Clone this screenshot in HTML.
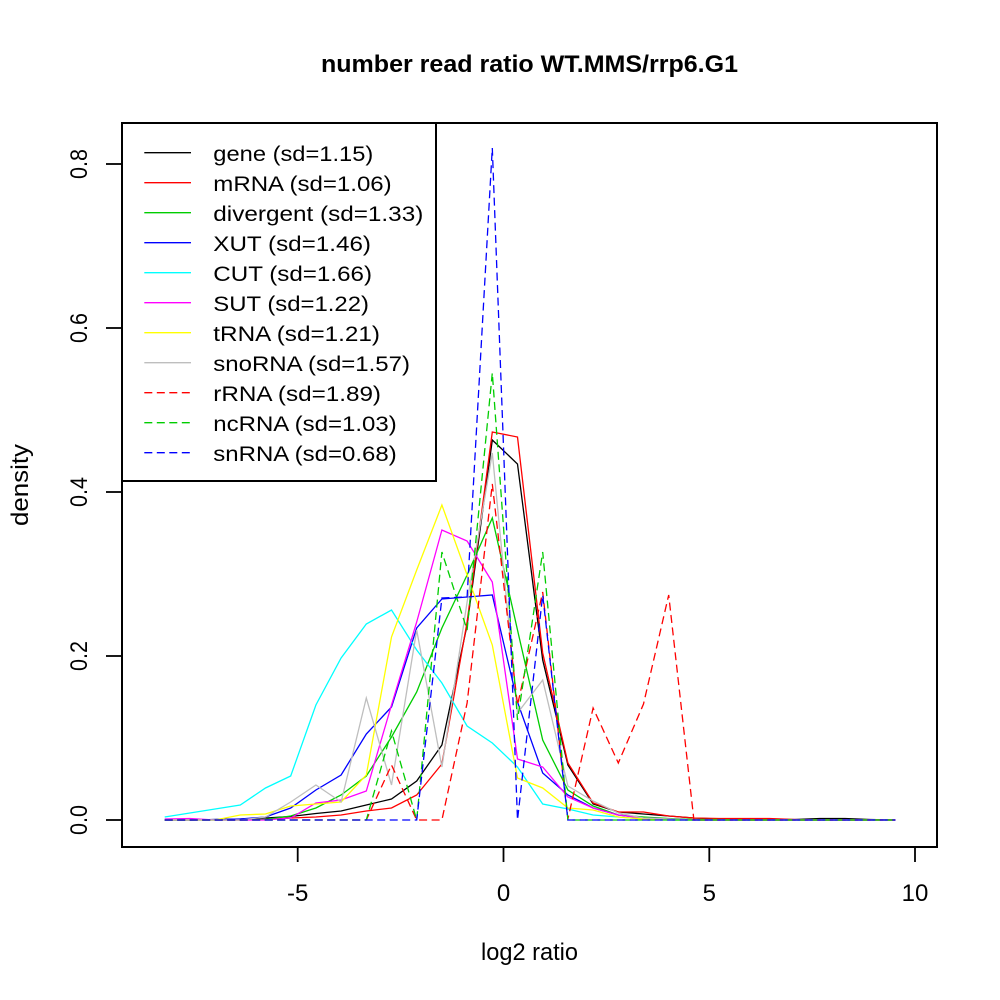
<!DOCTYPE html>
<html>
<head>
<meta charset="utf-8">
<style>
html,body{margin:0;padding:0;background:#fff;}
svg{display:block;}
text{font-family:"Liberation Sans",Arial,sans-serif;fill:#000;}
</style>
</head>
<body>
<svg width="1000" height="1000" viewBox="0 0 1000 1000" xmlns="http://www.w3.org/2000/svg">
<rect x="0" y="0" width="1000" height="1000" fill="#fff"/>

<!-- title -->
<text x="529.5" y="72" font-size="24" font-weight="bold" text-anchor="middle" textLength="417" lengthAdjust="spacingAndGlyphs">number read ratio WT.MMS/rrp6.G1</text>

<!-- axis labels -->
<text x="529.5" y="960" font-size="24" text-anchor="middle" textLength="97" lengthAdjust="spacingAndGlyphs">log2 ratio</text>
<text transform="translate(28,485) rotate(-90)" font-size="24" text-anchor="middle" textLength="82" lengthAdjust="spacingAndGlyphs">density</text>

<!-- x ticks -->
<g stroke="#000" stroke-width="1.8">
<line x1="297.7" y1="847" x2="297.7" y2="862"/>
<line x1="503.5" y1="847" x2="503.5" y2="862"/>
<line x1="709.3" y1="847" x2="709.3" y2="862"/>
<line x1="915" y1="847" x2="915" y2="862"/>
<line x1="106" y1="820" x2="122" y2="820"/>
<line x1="106" y1="656" x2="122" y2="656"/>
<line x1="106" y1="492" x2="122" y2="492"/>
<line x1="106" y1="328" x2="122" y2="328"/>
<line x1="106" y1="164" x2="122" y2="164"/>
</g>
<g font-size="24" text-anchor="middle">
<text x="297.7" y="901">-5</text>
<text x="503.5" y="901">0</text>
<text x="709.3" y="901">5</text>
<text x="915" y="901">10</text>
</g>
<g font-size="24" text-anchor="middle">
<text transform="translate(87,820) rotate(-90)" textLength="30" lengthAdjust="spacingAndGlyphs">0.0</text>
<text transform="translate(87,656) rotate(-90)" textLength="30" lengthAdjust="spacingAndGlyphs">0.2</text>
<text transform="translate(87,492) rotate(-90)" textLength="30" lengthAdjust="spacingAndGlyphs">0.4</text>
<text transform="translate(87,328) rotate(-90)" textLength="30" lengthAdjust="spacingAndGlyphs">0.6</text>
<text transform="translate(87,164) rotate(-90)" textLength="30" lengthAdjust="spacingAndGlyphs">0.8</text>
</g>

<!-- data -->
<g fill="none" stroke-width="1.3" stroke-linejoin="miter">
<polyline stroke="#000000" points="164.7,820 189.9,820 215.1,819.5 240.3,819 265.5,818 290.7,816.5 315.9,813.5 341.1,811 366.3,805 391.5,799 416.7,781 441.9,745 467.1,625 492.3,440 517.5,464 542.7,660 567.9,765 593.1,804 618.3,812 643.5,814 668.7,816 693.9,818 719.1,819 744.3,819 769.5,819.5 794.7,819.5 819.9,818.5 845.1,818.5 870.3,819.5 895.5,820"/>
<polyline stroke="#FF0000" points="164.7,820 189.9,820 215.1,820 240.3,820 265.5,819.5 290.7,818 315.9,817 341.1,815 366.3,811 391.5,808 416.7,795 441.9,764 467.1,622 492.3,432 517.5,437 542.7,653 567.9,763 593.1,803 618.3,812 643.5,812 668.7,816 693.9,818 719.1,818.5 744.3,818.5 769.5,818.5 794.7,819.5 819.9,820 845.1,820 870.3,820 895.5,820"/>
<polyline stroke="#00CD00" points="164.7,820 189.9,820 215.1,820 240.3,820 265.5,819.5 290.7,816 315.9,808 341.1,795 366.3,776 391.5,737 416.7,692 441.9,628 467.1,575 492.3,518 517.5,630 542.7,740 567.9,790 593.1,806 618.3,815 643.5,817 668.7,818.5 693.9,819.5 719.1,819.5 744.3,820 769.5,820 794.7,820 819.9,820 845.1,820 870.3,820 895.5,820"/>
<polyline stroke="#0000FF" points="164.7,820 189.9,820 215.1,819.5 240.3,819 265.5,817 290.7,808 315.9,790 341.1,775 366.3,734 391.5,707 416.7,628 441.9,599 467.1,597 492.3,595 517.5,702 542.7,773 567.9,795 593.1,808 618.3,815 643.5,818 668.7,819 693.9,820 719.1,820 744.3,820 769.5,820 794.7,820 819.9,820 845.1,820 870.3,820 895.5,820"/>
<polyline stroke="#00FFFF" points="164.7,817 189.9,813 215.1,809 240.3,805 265.5,788 290.7,776 315.9,705 341.1,658 366.3,624 391.5,610 416.7,650 441.9,683 467.1,726 492.3,743 517.5,767 542.7,804 567.9,809 593.1,815 618.3,817 643.5,819 668.7,820 693.9,820 719.1,820 744.3,820 769.5,820 794.7,820 819.9,820 845.1,820 870.3,820 895.5,820"/>
<polyline stroke="#FF00FF" points="164.7,819 189.9,818.5 215.1,820 240.3,820 265.5,820 290.7,818 315.9,803 341.1,800 366.3,791 391.5,705 416.7,622 441.9,530 467.1,541 492.3,582 517.5,759 542.7,767 567.9,797 593.1,808 618.3,815 643.5,818 668.7,819 693.9,820 719.1,820 744.3,820 769.5,820 794.7,820 819.9,820 845.1,820 870.3,820 895.5,820"/>
<polyline stroke="#FFFF00" points="164.7,820 189.9,820 215.1,820 240.3,815 265.5,814 290.7,806 315.9,804 341.1,802 366.3,775 391.5,637 416.7,570 441.9,505 467.1,575 492.3,645 517.5,778 542.7,788 567.9,808 593.1,810 618.3,817 643.5,819 668.7,820 693.9,820 719.1,820 744.3,820 769.5,820 794.7,820 819.9,820 845.1,820 870.3,820 895.5,820"/>
<polyline stroke="#BEBEBE" points="164.7,820 189.9,820 215.1,820 240.3,820 265.5,817 290.7,802 315.9,785 341.1,802 366.3,698 391.5,785 416.7,630 441.9,767 467.1,602 492.3,453 517.5,713 542.7,680 567.9,786 593.1,801 618.3,813 643.5,818 668.7,819 693.9,820 719.1,820 744.3,820 769.5,820 794.7,820 819.9,820 845.1,820 870.3,820 895.5,820"/>
<polyline stroke="#FF0000" stroke-dasharray="8 4.5" points="164.7,820 189.9,820 215.1,820 240.3,820 265.5,820 290.7,820 315.9,820 341.1,820 366.3,820 391.5,765 416.7,820 441.9,820 467.1,703 492.3,484 517.5,705 542.7,592 567.9,819 593.1,708 618.3,763 643.5,704 668.7,595 693.9,820 719.1,820 744.3,820 769.5,820 794.7,820 819.9,820 845.1,820 870.3,820 895.5,820"/>
<polyline stroke="#00CD00" stroke-dasharray="8 4.5" points="164.7,820 189.9,820 215.1,820 240.3,820 265.5,820 290.7,820 315.9,820 341.1,820 366.3,820 391.5,731 416.7,820 441.9,552 467.1,630 492.3,373 517.5,720 542.7,552 567.9,820 593.1,820 618.3,820 643.5,820 668.7,820 693.9,820 719.1,820 744.3,820 769.5,820 794.7,820 819.9,820 845.1,820 870.3,820 895.5,820"/>
<polyline stroke="#0000FF" stroke-dasharray="8 4.5" points="164.7,820 189.9,820 215.1,820 240.3,820 265.5,820 290.7,820 315.9,820 341.1,820 366.3,820 391.5,820 416.7,820 441.9,598 467.1,597 492.3,148 517.5,820 542.7,595 567.9,820 593.1,820 618.3,820 643.5,820 668.7,820 693.9,820 719.1,820 744.3,820 769.5,820 794.7,820 819.9,820 845.1,820 870.3,820 895.5,820"/>
</g>

<!-- plot box -->
<rect x="122" y="123" width="815" height="724" fill="none" stroke="#000" stroke-width="2"/>

<!-- legend -->
<rect x="122" y="123" width="314" height="358" fill="#fff" stroke="#000" stroke-width="2"/>
<g stroke-width="1.3">
<line x1="144.3" y1="152.7" x2="191" y2="152.7" stroke="#000000"/>
<line x1="144.3" y1="182.7" x2="191" y2="182.7" stroke="#FF0000"/>
<line x1="144.3" y1="212.7" x2="191" y2="212.7" stroke="#00CD00"/>
<line x1="144.3" y1="242.7" x2="191" y2="242.7" stroke="#0000FF"/>
<line x1="144.3" y1="272.7" x2="191" y2="272.7" stroke="#00FFFF"/>
<line x1="144.3" y1="302.7" x2="191" y2="302.7" stroke="#FF00FF"/>
<line x1="144.3" y1="332.7" x2="191" y2="332.7" stroke="#FFFF00"/>
<line x1="144.3" y1="362.7" x2="191" y2="362.7" stroke="#BEBEBE"/>
<line x1="144.3" y1="392.7" x2="191" y2="392.7" stroke="#FF0000" stroke-dasharray="8 4.5"/>
<line x1="144.3" y1="422.7" x2="191" y2="422.7" stroke="#00CD00" stroke-dasharray="8 4.5"/>
<line x1="144.3" y1="452.7" x2="191" y2="452.7" stroke="#0000FF" stroke-dasharray="8 4.5"/>
</g>
<g font-size="21" lengthAdjust="spacingAndGlyphs">
<text x="213.3" y="161.2" textLength="160" lengthAdjust="spacingAndGlyphs">gene (sd=1.15)</text>
<text x="213.3" y="191.2" textLength="178.4" lengthAdjust="spacingAndGlyphs">mRNA (sd=1.06)</text>
<text x="213.3" y="221.2" textLength="210" lengthAdjust="spacingAndGlyphs">divergent (sd=1.33)</text>
<text x="213.3" y="251.2" textLength="157.7" lengthAdjust="spacingAndGlyphs">XUT (sd=1.46)</text>
<text x="213.3" y="281.2" textLength="158.7" lengthAdjust="spacingAndGlyphs">CUT (sd=1.66)</text>
<text x="213.3" y="311.2" textLength="155.7" lengthAdjust="spacingAndGlyphs">SUT (sd=1.22)</text>
<text x="213.3" y="341.2" textLength="166.7" lengthAdjust="spacingAndGlyphs">tRNA (sd=1.21)</text>
<text x="213.3" y="371.2" textLength="196.7" lengthAdjust="spacingAndGlyphs">snoRNA (sd=1.57)</text>
<text x="213.3" y="401.2" textLength="167.7" lengthAdjust="spacingAndGlyphs">rRNA (sd=1.89)</text>
<text x="213.3" y="431.2" textLength="183.4" lengthAdjust="spacingAndGlyphs">ncRNA (sd=1.03)</text>
<text x="213.3" y="461.2" textLength="183.4" lengthAdjust="spacingAndGlyphs">snRNA (sd=0.68)</text>
</g>
</svg>
</body>
</html>
